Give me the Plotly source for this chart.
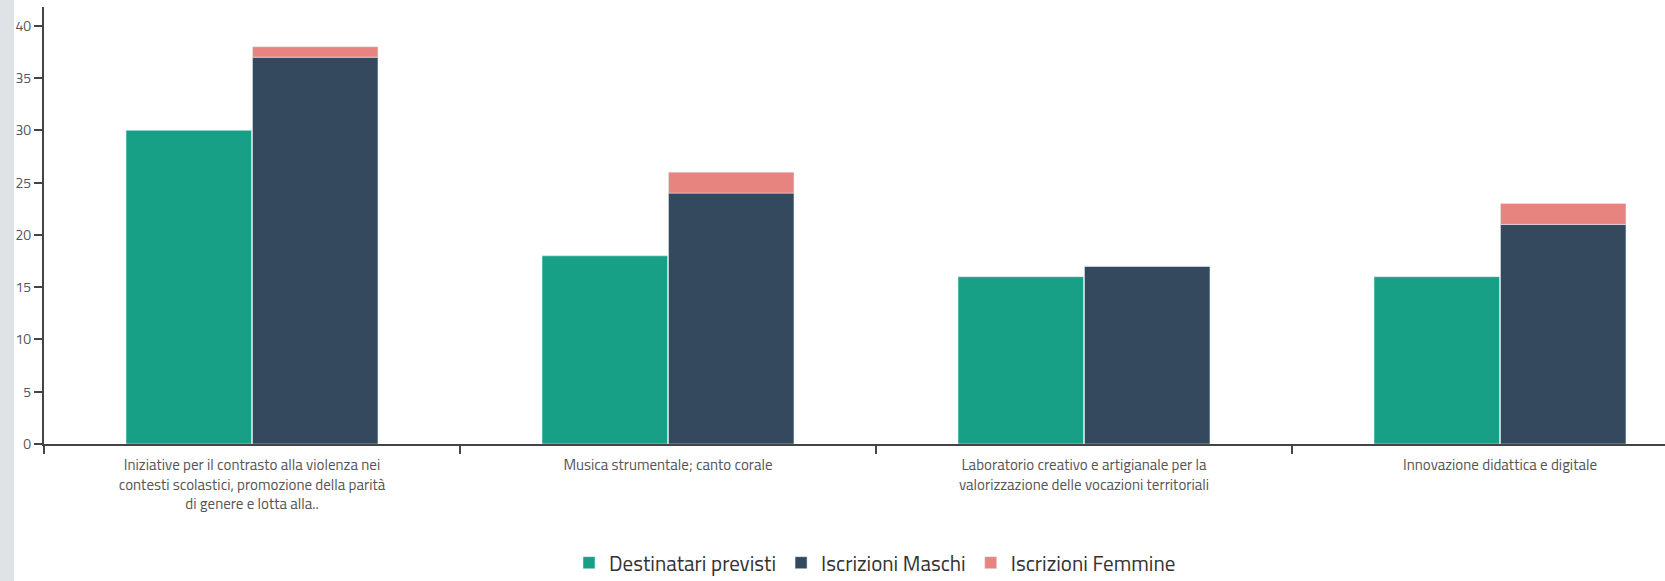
import plotly.graph_objects as go

categories = [
    "Iniziative per il contrasto alla violenza nei<br>contesti scolastici, promozione della parità<br>di genere e lotta alla..",
    "Musica strumentale; canto corale",
    "Laboratorio creativo e artigianale per la<br>valorizzazione delle vocazioni territoriali",
    "Innovazione didattica e digitale",
]
destinatari = [30, 18, 16, 16]
maschi = [37, 24, 17, 21]
femmine = [1, 2, 0, 2]

FONT = "Titillium Web, Liberation Sans Narrow, DejaVu Sans Condensed, Noto Sans, sans-serif"
W, H = 1665, 581
L, R, T, B = 44, 0, 7, 137
pw, ph = W - L - R, H - T - B

fig = go.Figure()
fig.add_trace(go.Bar(x=categories, y=destinatari, name="Destinatari previsti",
                     marker_color="#17a086", offsetgroup="a"))
fig.add_trace(go.Bar(x=categories, y=maschi, name="Iscrizioni Maschi",
                     marker_color="#34495e", offsetgroup="b"))
fig.add_trace(go.Bar(x=categories, y=femmine, base=maschi, name="Iscrizioni Femmine",
                     marker_color="#e88480", offsetgroup="b"))

fig.update_layout(
    width=W, height=H,
    margin=dict(l=L, r=R, t=T, b=B),
    paper_bgcolor="white", plot_bgcolor="white",
    barmode="group", bargap=0.392, bargroupgap=0.008,
    font=dict(family=FONT, color="#555555", size=14),
    showlegend=True,
    legend=dict(orientation="h", x=(875 - L) / pw, xanchor="center",
                yref="container", y=(H - 563) / H, yanchor="middle",
                font=dict(size=21, color="#333333"),
                traceorder="normal"),
    xaxis=dict(showline=True, linecolor="#444444", linewidth=2,
               ticks="outside", tickson="boundaries", ticklen=8, tickwidth=2,
               tickcolor="#444444", range=[-0.5, -0.5 + pw / 416.0],
               showgrid=False, automargin=False, ticklabelstandoff=6,
               tickfont=dict(size=15, color="#555555")),
    yaxis=dict(showline=True, linecolor="#444444", linewidth=2,
               ticks="outside", ticklen=8, tickwidth=2, tickcolor="#444444",
               range=[0, 41.8], dtick=5, showgrid=False, zeroline=False,
               automargin=False, tickfont=dict(size=14, color="#555555")),
    shapes=[dict(type="rect", xref="paper", yref="paper",
                 x0=-L / pw, x1=-(L - 14) / pw, y0=-B / ph - 0.1, y1=1 + T / ph + 0.1,
                 fillcolor="#dfe3e7", line_width=0, layer="above")],
)

# page body has an 8px default margin; drop it so the figure fills the window
fig.write_html("out.html", config={"displayModeBar": False},
               post_script="document.body.style.margin='0px';")
